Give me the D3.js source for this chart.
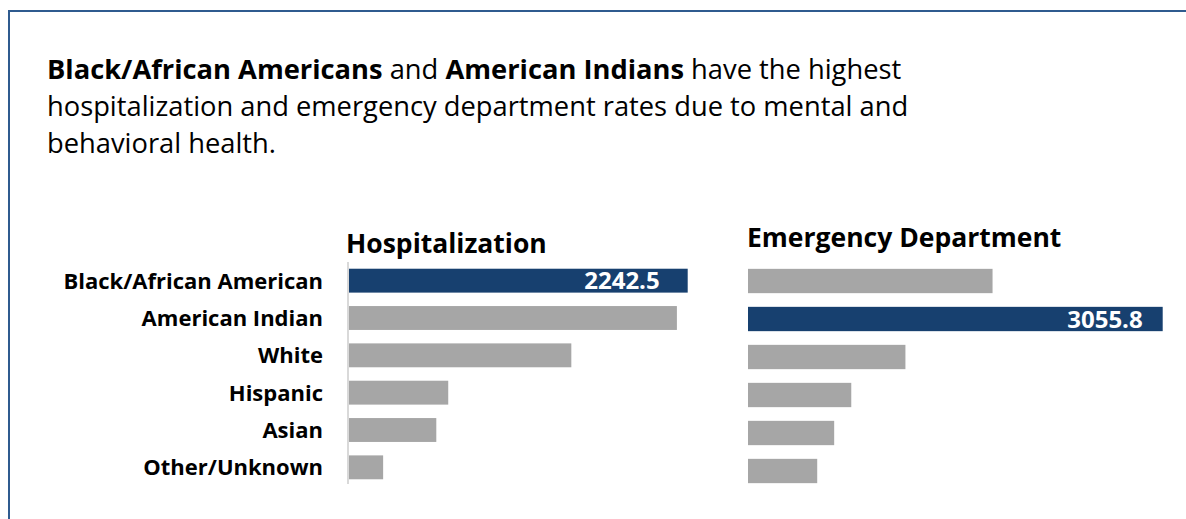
<!DOCTYPE html>
<html lang="en">

<head>
  <meta charset="utf-8">
  <title>Mental and behavioral health rates</title>
  <script src="https://d3js.org/d3.v7.min.js"></script>
  <style>
    body { margin: 0; background: #fff; }
    svg { display: block; font-family: "Open Sans", "Noto Sans", sans-serif; }
  </style>
</head>

<body>
  <script type="text/javascript">
  var categories = ['Black/African American', 'American Indian', 'White', 'Hispanic', 'Asian', 'Other/Unknown'];
  var hospValues = [2242.5, 2171, 1472, 657, 578, 226];
  var edValues = [1802, 3055.8, 1160, 761, 635, 510];
  var highlight = ['Black/African American', 'American Indian'];
  var panelTitles = ['Hospitalization', 'Emergency Department'];

  var w = 1186, h = 519;
  var blue = '#17406f', grey = '#a6a6a6';

  var svg = d3.select('body').append('svg')
      .attr('width', w)
      .attr('height', h);

  // frame (runs off right and bottom edge)
  svg.append('rect')
    .attr('x', 9).attr('y', 11)
    .attr('width', w + 20).attr('height', h + 20)
    .style('fill', 'none')
    .style('stroke', '#2f5b8f')
    .style('stroke-width', 2);

  // headline
  var head = svg.append('text')
    .attr('x', 47)
    .style('font-size', '27.3px')
    .style('fill', '#000');
  var lines = [
    [['Black/African Americans', true], [' and ', false], ['American Indians', true], [' have the highest', false]],
    [['hospitalization and emergency department rates due to mental and', false]],
    [['behavioral health.', false]]
  ];
  lines.forEach(function(parts, i) {
    parts.forEach(function(p, j) {
      var ts = head.append('tspan')
        .text(p[0])
        .style('font-weight', p[1] ? 'bold' : 'normal');
      if (j === 0) ts.attr('x', 47).attr('y', 79 + i * 37);
    });
  });

  var data = categories.map(function(c, i) {
    return {cat: c, hosp: hospValues[i], ed: edValues[i]};
  });

  function panel(opts) {
    var g = svg.append('g').attr('transform', 'translate(' + [opts.left, opts.top] + ')');
    var y = d3.scaleBand()
      .domain(categories)
      .range([0, opts.height])
      .paddingInner(0.36)
      .paddingOuter(0.18);
    var x = d3.scaleLinear()
      .domain([0, opts.max])
      .range([0, opts.width]);

    g.append('text')
      .attr('x', opts.titleX)
      .attr('y', opts.titleY)
      .style('font-size', '26.5px')
      .style('font-weight', 'bold')
      .text(opts.title);

    g.selectAll('rect.bar')
      .data(data)
      .enter().append('rect')
      .attr('class', 'bar')
      .attr('x', 1)
      .attr('y', function(d) { return y(d.cat); })
      .attr('height', y.bandwidth())
      .attr('width', function(d) { return x(d[opts.key]); })
      .style('fill', function(d) { return d.cat === opts.hl ? blue : grey; });

    g.selectAll('text.val')
      .data(data.filter(function(d) { return d.cat === opts.hl; }))
      .enter().append('text')
      .attr('class', 'val')
      .attr('x', function(d) { return x(d[opts.key]) - opts.labelPad; })
      .attr('y', function(d) { return y(d.cat) + y.bandwidth() / 2; })
      .attr('dy', '0.36em')
      .attr('text-anchor', 'end')
      .style('fill', '#fff')
      .style('font-size', '24px')
      .style('font-weight', 'bold')
      .text(function(d) { return d[opts.key].toFixed(1); });

    return {g: g, y: y};
  }

  var hp = panel({left: 348, top: 262, height: 224, width: 338.7, max: 2242.5,
    key: 'hosp', hl: highlight[0], title: panelTitles[0], titleX: -2, titleY: -9, labelPad: 27});
  var ep = panel({left: 747, top: 262, height: 228, width: 414.7, max: 3055.8,
    key: 'ed', hl: highlight[1], title: panelTitles[1], titleX: 0, titleY: -15, labelPad: 19});

  // category axis on the left panel
  hp.g.append('line')
    .attr('x1', 0).attr('x2', 0)
    .attr('y1', 0).attr('y2', 222)
    .style('stroke', '#d9d9d9')
    .style('stroke-width', 2);

  hp.g.selectAll('text.cat')
    .data(categories)
    .enter().append('text')
    .attr('class', 'cat')
    .attr('x', -25)
    .attr('y', function(d) { return hp.y(d) + hp.y.bandwidth() / 2; })
    .attr('dy', '0.36em')
    .attr('text-anchor', 'end')
    .style('font-size', '22px')
    .style('font-weight', 'bold')
    .text(function(d) { return d; });
  </script>
</body>

</html>
